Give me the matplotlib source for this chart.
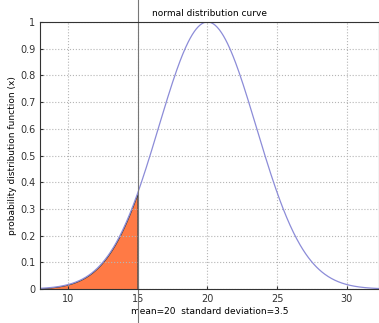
import numpy as np
import matplotlib
matplotlib.use("Agg")
import matplotlib.pyplot as plt

mean = 20
std = 3.5
x_min, x_max = 8, 32.3
cut = 15
xticks = [10, 15, 20, 25, 30]
yticks = [0, 0.1, 0.2, 0.3, 0.4, 0.5, 0.6, 0.7, 0.8, 0.9, 1]
ytick_labels = ["0", "0.1", "0.2", "0.3", "0.4", "0.5", "0.6", "0.7", "0.8", "0.9", "1"]

x = np.linspace(x_min, x_max, 500)
y = np.exp(-(x - mean) ** 2 / (2 * std ** 2))

fig = plt.figure(figsize=(3.79, 3.23), dpi=100)
ax = fig.add_axes([0.106, 0.105, 0.894, 0.827])
ax.plot(x, y, color="#8c8cd8", lw=0.9)
mask = x <= cut
ax.fill_between(x[mask], 0, y[mask], color="#ff7a45", edgecolor="#333333", lw=0.6)
ax.set_xlim(x_min, x_max)
ax.set_ylim(0, 1)
ax.set_xticks(xticks)
ax.set_yticks(yticks)
ax.set_yticklabels(ytick_labels)
ax.tick_params(labelsize=7, length=2, direction="in", colors="#333333")
ax.grid(True, linestyle=":", color="#b5b5b5", lw=0.8)
ax.set_title("normal distribution curve", fontsize=6.5, pad=4)
ax.set_xlabel("mean=20  standard deviation=3.5", fontsize=6.5, labelpad=2)
ax.set_ylabel("probability distribution function (x)", fontsize=6.5, labelpad=2)
for s in ax.spines.values():
    s.set_color("#333333")
ax.axvline(cut, ymin=-0.2, ymax=1.1, color="#777777", lw=0.8, clip_on=False)
fig.savefig("out.png", dpi=100)
